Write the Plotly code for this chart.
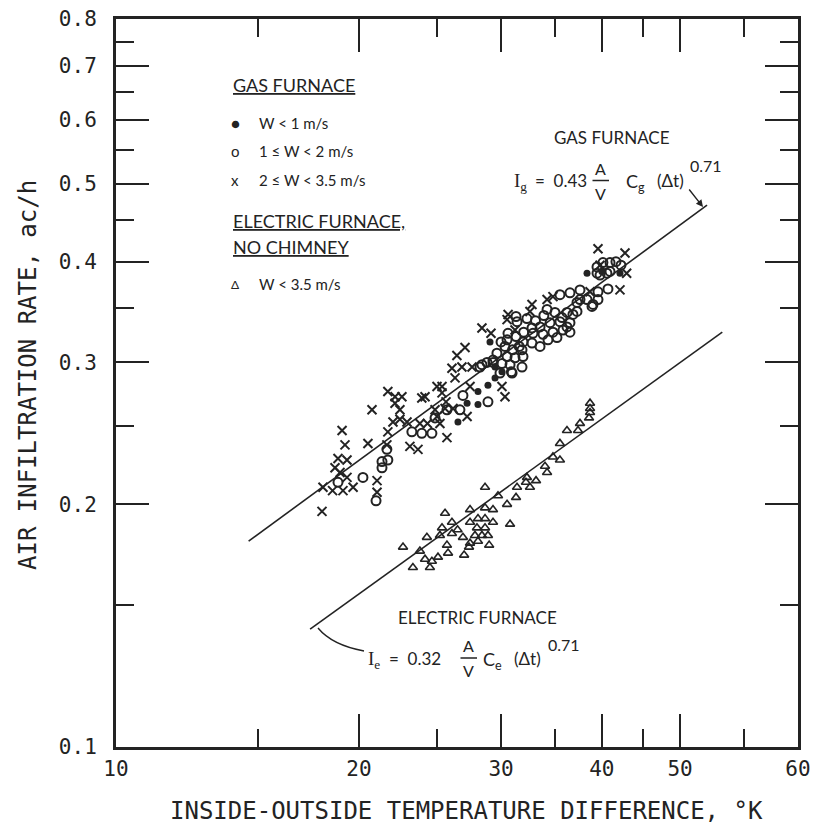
import math
import plotly.graph_objects as go

# ---------------- data ----------------
# Gas furnace, W < 1 m/s (filled circles)
gas_w1_dt = [38.34, 40.0, 42.12, 29.07, 29.49, 30.08, 29.49, 28.9, 28.09, 28.09, 27.23, 26.53]
gas_w1_rate = [0.387, 0.389, 0.387, 0.318, 0.296, 0.292, 0.287, 0.281, 0.276, 0.266, 0.267, 0.253]

# Gas furnace, 1 <= W < 2 m/s (open circles)
gas_w2_dt = [18.84, 20.23, 21.0, 21.36, 21.72, 21.36, 21.66, 23.26, 23.93, 24.63,
             24.85, 25.71, 26.91, 26.68, 28.25, 28.82, 28.9, 29.32, 28.41, 30.34,
             31.0, 31.85, 29.65, 30.52, 31.22, 31.94, 29.32, 30.08, 30.78, 31.85,
             29.91, 30.96, 30.52, 31.31, 31.94, 31.31, 31.4, 32.77, 33.53, 34.5,
             35.49, 36.52, 32.86, 33.82, 34.79, 35.8, 32.77, 33.53, 34.3, 35.19,
             34.21, 34.99, 36.21, 37.26, 38.89, 35.49, 36.52, 37.26, 38.34, 39.0,
             37.58, 39.56, 40.7, 36.21, 36.52, 36.83, 35.7, 37.58, 39.56, 39.45,
             40.12, 40.94, 41.64, 42.24, 39.45, 40.58, 40.94, 39.79,
             30.0, 30.6, 31.6, 32.3, 33.1, 30.9, 32.0, 33.9]
gas_w2_rate = [0.213, 0.216, 0.202, 0.226, 0.227, 0.222, 0.234, 0.246, 0.245, 0.245,
               0.256, 0.262, 0.273, 0.262, 0.296, 0.300, 0.268, 0.302, 0.298, 0.314,
               0.311, 0.311, 0.308, 0.305, 0.304, 0.305, 0.300, 0.299, 0.298, 0.296,
               0.291, 0.291, 0.320, 0.323, 0.318, 0.342, 0.337, 0.331, 0.332, 0.336,
               0.337, 0.336, 0.326, 0.325, 0.327, 0.329, 0.317, 0.314, 0.320, 0.322,
               0.349, 0.346, 0.346, 0.347, 0.352, 0.364, 0.366, 0.356, 0.359, 0.354,
               0.369, 0.367, 0.370, 0.332, 0.327, 0.344, 0.341, 0.359, 0.359, 0.394,
               0.399, 0.399, 0.400, 0.396, 0.387, 0.387, 0.389, 0.385,
               0.318, 0.326, 0.314, 0.340, 0.338, 0.292, 0.327, 0.343]

# Gas furnace, 2 <= W < 3.5 m/s (crosses)
gas_w3_dt = [18.0, 18.05, 18.55, 19.11, 19.67, 18.68, 18.95, 19.33, 18.84, 19.33,
             19.06, 19.22, 20.52, 20.76, 21.06, 21.06, 21.72, 22.17, 22.61, 22.17,
             22.48, 22.04, 22.48, 22.94, 21.72, 21.66, 23.93, 24.99, 25.35, 25.35,
             24.85, 25.57, 26.16, 25.2, 25.64, 23.8, 24.32, 24.99, 25.71, 23.13,
             23.67, 24.15, 26.08, 26.45, 27.07, 26.83, 27.62, 26.31, 27.46, 27.23,
             30.08, 30.34, 28.41, 29.15, 30.61, 30.52, 31.22, 32.77, 32.58, 34.21,
             34.79, 38.67, 42.12, 42.93, 42.73, 39.56, 39.79]
gas_w3_rate = [0.196, 0.210, 0.208, 0.208, 0.210, 0.222, 0.219, 0.216, 0.228, 0.227,
               0.247, 0.237, 0.238, 0.262, 0.214, 0.207, 0.276, 0.272, 0.272, 0.267,
               0.262, 0.253, 0.255, 0.253, 0.246, 0.237, 0.271, 0.280, 0.280, 0.275,
               0.262, 0.263, 0.263, 0.252, 0.268, 0.252, 0.252, 0.257, 0.242, 0.236,
               0.234, 0.272, 0.295, 0.306, 0.313, 0.296, 0.296, 0.287, 0.280, 0.257,
               0.280, 0.272, 0.331, 0.326, 0.344, 0.339, 0.329, 0.354, 0.347, 0.359,
               0.362, 0.367, 0.369, 0.387, 0.410, 0.415, 0.396]

# Electric furnace, no chimney, W < 3.5 m/s (triangles)
elec_dt = [22.68, 23.33, 24.15, 24.49, 24.63, 25.06, 25.79, 25.71, 24.28, 25.2,
           25.35, 26.08, 26.08, 25.57, 26.91, 27.38, 27.46, 28.09, 27.85, 28.41,
           28.9, 27.46, 28.09, 28.66, 28.01, 28.66, 29.32, 27.46, 28.66, 29.32,
           30.52, 28.66, 29.74, 31.31, 30.78, 31.4, 32.21, 32.3, 33.15, 32.58,
           34.01, 34.21, 34.79, 35.49, 35.49, 36.21, 37.37, 37.58, 38.67, 38.67,
           38.67, 38.56, 23.8, 26.5, 27.0, 29.0]
elec_rate = [0.177, 0.167, 0.171, 0.167, 0.170, 0.172, 0.174, 0.178, 0.182, 0.183,
             0.187, 0.190, 0.184, 0.195, 0.182, 0.177, 0.179, 0.180, 0.183, 0.183,
             0.183, 0.190, 0.192, 0.192, 0.187, 0.187, 0.190, 0.197, 0.198, 0.197,
             0.200, 0.210, 0.205, 0.204, 0.189, 0.210, 0.213, 0.216, 0.214, 0.210,
             0.223, 0.219, 0.229, 0.227, 0.238, 0.247, 0.247, 0.252, 0.267, 0.263,
             0.260, 0.256, 0.175, 0.186, 0.173, 0.178]

# fitted lines (end points)
gas_line_dt = [14.6, 54.0]
gas_line_rate = [0.180, 0.470]
elec_line_dt = [17.4, 56.4]
elec_line_rate = [0.140, 0.327]

# axis ticks
x_major_vals = [10, 20, 30, 40, 50, 70]
x_major_text = ["10", "20", "30", "40", "50", "60"]
x_minor_vals = [15, 25, 35, 45, 60]
y_major_vals = [0.1, 0.2, 0.3, 0.4, 0.5, 0.6, 0.7, 0.8]
y_major_text = ["0.1", "0.2", "0.3", "0.4", "0.5", "0.6", "0.7", "0.8"]
y_minor_vals = [0.15, 0.25, 0.35, 0.45, 0.55, 0.65, 0.75]

# ---------------- figure ----------------
W, H = 817, 828
ML, MR, MT, MB = 116, 19, 19, 81
PW, PH = W - ML - MR, H - MT - MB
INK = "#232323"
TXT = "Lato"
SERIF = "Liberation Serif"


def px(x):
    return (x - ML) / PW


def py(y):
    return (H - MB - y) / PH


fig = go.Figure()

fig.add_trace(go.Scatter(x=gas_line_dt, y=gas_line_rate, mode="lines",
                         line=dict(color=INK, width=1.6), showlegend=False, hoverinfo="skip"))
fig.add_trace(go.Scatter(x=elec_line_dt, y=elec_line_rate, mode="lines",
                         line=dict(color=INK, width=1.6), showlegend=False, hoverinfo="skip"))

fig.add_trace(go.Scatter(x=gas_w2_dt, y=gas_w2_rate, mode="markers", name="1 ≤ W < 2 m/s",
                         marker=dict(symbol="circle-open", size=9, color=INK, line=dict(width=2, color=INK))))
fig.add_trace(go.Scatter(x=gas_w3_dt, y=gas_w3_rate, mode="markers", name="2 ≤ W < 3.5 m/s",
                         marker=dict(symbol="x-thin-open", size=9, color=INK, line=dict(width=2, color=INK))))
fig.add_trace(go.Scatter(x=gas_w1_dt, y=gas_w1_rate, mode="markers", name="W < 1 m/s",
                         marker=dict(symbol="circle", size=7, color=INK)))
fig.add_trace(go.Scatter(x=elec_dt, y=elec_rate, mode="markers", name="W < 3.5 m/s",
                         marker=dict(symbol="triangle-up-open", size=8, color=INK, line=dict(width=1.6, color=INK))))

axis_common = dict(type="log", showgrid=False, zeroline=False, showline=True, linewidth=3,
                   linecolor=INK, mirror="ticks", ticks="inside", tickwidth=2, tickcolor=INK,
                   ticklen=33, tickmode="array", automargin=False)

fig.update_xaxes(range=[1, math.log10(70)], tickvals=x_major_vals, ticktext=x_major_text,
                 tickfont=dict(family="DejaVu Sans Mono", size=21, color=INK),
                 ticklabelstandoff=1,
                 minor=dict(tickmode="array", tickvals=x_minor_vals, ticks="inside", ticklen=18,
                            tickwidth=2, tickcolor=INK, showgrid=False),
                 **axis_common)
fig.update_yaxes(range=[-1, math.log10(0.8)], tickvals=y_major_vals, ticktext=y_major_text,
                 tickfont=dict(family="DejaVu Sans Mono", size=21, color=INK),
                 ticklabelstandoff=12,
                 minor=dict(tickmode="array", tickvals=y_minor_vals, ticks="inside", ticklen=18,
                            tickwidth=2, tickcolor=INK, showgrid=False),
                 **axis_common)

ann = []


def txt(x, y, s, size=15, anchor="left", family=TXT, **kw):
    ann.append(dict(x=px(x), y=py(y), xref="paper", yref="paper", text=s, showarrow=False,
                    xanchor=anchor, yanchor="middle", font=dict(family=family, size=size, color=INK), **kw))


def bar(x_right, y, length, head=0, ax=None, ay=0, width=1.6):
    ann.append(dict(x=px(x_right), y=py(y), xref="paper", yref="paper", text="",
                    showarrow=True, arrowhead=head, arrowsize=1, arrowwidth=width, arrowcolor=INK,
                    ax=-length if ax is None else ax, ay=ay, standoff=0, startstandoff=0))


# axis titles
txt(28, 375, "AIR INFILTRATION RATE, ac/h", size=24, anchor="center", family="DejaVu Sans Mono",
    textangle=-90)
txt(466, 811, "INSIDE-OUTSIDE TEMPERATURE DIFFERENCE, °K", size=24, anchor="center",
    family="DejaVu Sans Mono")

# legend block
txt(231, 85, "<u>GAS FURNACE</u>", size=18)
txt(229, 123, "●", size=15)
txt(257, 123, "W < 1 m/s", size=15)
txt(229, 151, "o", size=15)
txt(257, 151, "1 ≤ W < 2 m/s", size=15)
txt(229, 180, "x", size=15)
txt(257, 180, "2 ≤ W < 3.5 m/s", size=15)
txt(231, 221, "<u>ELECTRIC FURNACE,</u>", size=18)
txt(231, 247, "<u>NO CHIMNEY</u>", size=18)
txt(229, 284, "Δ", size=12)
txt(257, 284, "W < 3.5 m/s", size=15)

# gas furnace equation
txt(552, 137, "GAS FURNACE", size=17)
txt(512, 182, "I<sub>g</sub>", size=19, family=SERIF)
txt(533, 180, "=  0.43", size=17)
txt(600, 168, "A", size=16, anchor="center")
txt(600, 193, "V", size=16, anchor="center")
bar(609, 180.5, 18)
txt(624, 182, "C<sub>g</sub>", size=18)
txt(655, 180, "(Δt)", size=17)
txt(688, 166, "0.71", size=16)

# electric furnace equation
txt(396, 617, "ELECTRIC FURNACE", size=17)
txt(366, 660, "I<sub>e</sub>", size=19, family=SERIF)
txt(387, 658, "=  0.32", size=17)
txt(468, 645, "A", size=16, anchor="center")
txt(468, 670, "V", size=16, anchor="center")
bar(477, 658, 18)
txt(481, 660, "C<sub>e</sub>", size=18)
txt(512, 658, "(Δt)", size=17)
txt(546, 644, "0.71", size=16)

# arrow to gas line end
bar(703, 207, 0, head=2, ax=-15, ay=-19, width=1.4)

shapes = [
    dict(type="path", xref="paper", yref="paper",
         path=f"M {px(364)},{py(651)} Q {px(332)},{py(645)} {px(318)},{py(628)}",
         line=dict(color=INK, width=1.4)),
]

fig.update_layout(width=W, height=H, margin=dict(l=ML, r=MR, t=MT, b=MB),
                  paper_bgcolor="white", plot_bgcolor="white", showlegend=False,
                  annotations=ann, shapes=shapes)

fig.write_html("out.html", config={"displayModeBar": False},
               post_script="document.body.style.margin='0px';")
